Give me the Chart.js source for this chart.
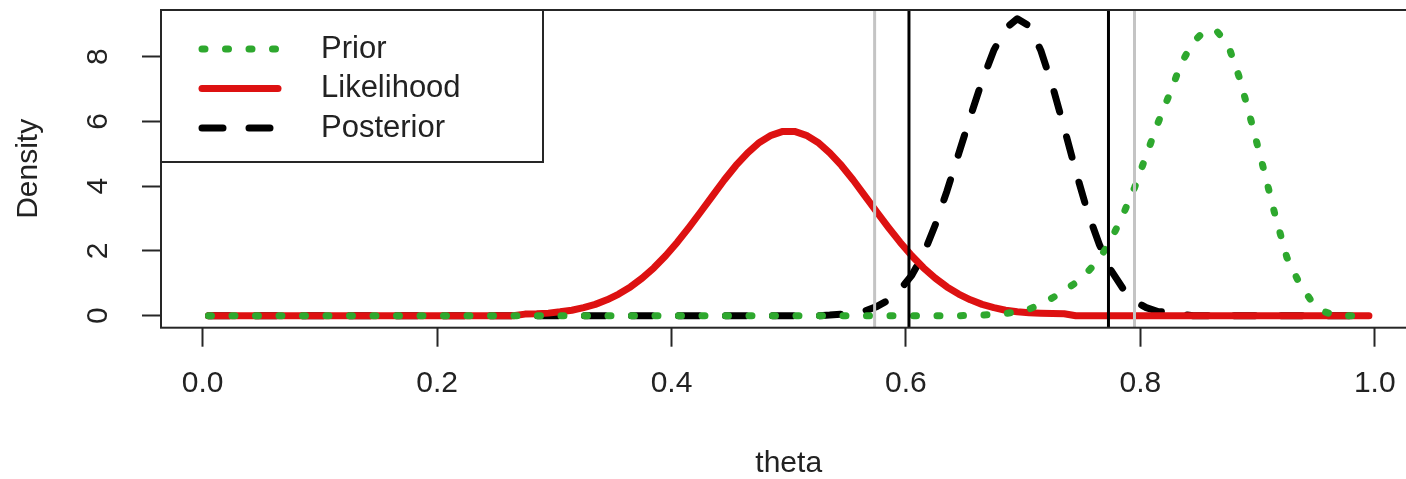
<!DOCTYPE html>
<html>
<head>
<meta charset="utf-8">
<script src="https://cdn.jsdelivr.net/npm/chart.js@4/dist/chart.umd.min.js"></script>
<style>
html,body{margin:0;padding:0;background:#ffffff;overflow:hidden;width:1406px;height:479px}
canvas{display:block}
</style>
</head>
<body>
<canvas id="c" width="1420" height="479" style="width:1420px;height:479px"></canvas>
<script>
// ---- data ----
const theta = [
  0.005,0.015,0.025,0.035,0.045,0.055,0.065,0.075,0.085,0.095,
  0.105,0.115,0.125,0.135,0.145,0.155,0.165,0.175,0.185,0.195,
  0.205,0.215,0.225,0.235,0.245,0.255,0.265,0.275,0.285,0.295,
  0.305,0.315,0.325,0.335,0.345,0.355,0.365,0.375,0.385,0.395,
  0.405,0.415,0.425,0.435,0.445,0.455,0.465,0.475,0.485,0.495,
  0.505,0.515,0.525,0.535,0.545,0.555,0.565,0.575,0.585,0.595,
  0.605,0.615,0.625,0.635,0.645,0.655,0.665,0.675,0.685,0.695,
  0.705,0.715,0.725,0.735,0.745,0.755,0.765,0.775,0.785,0.795,
  0.805,0.815,0.825,0.835,0.845,0.855,0.865,0.875,0.885,0.895,
  0.905,0.915,0.925,0.935,0.945,0.955,0.965,0.975,0.985,0.995
];
const prior = [
  0,0,0,0,0,0,0,0,0,0,
  0,0,0,0,0,0,0,0,0,0,
  0,0,0,0,0,0,0,0,0,0,
  0,0,0,0,0,0,0,0,0,0,
  0,0,0,0,0,0,0,0,0,0,
  0,0,0,0,0,0,0,0,0,0,
  0,0,0,0,0,0.01,0.02,0.04,0.07,0.12,
  0.2,0.36,0.55,0.78,1.02,1.35,1.75,2.35,3.1,3.95,
  4.95,5.95,6.85,7.8,8.45,8.8,8.8,8.35,7.3,5.95,
  4.55,3.1,1.8,1.05,0.5,0.15,0.02,0,0,0
];
const likelihood = [
  0,0,0,0,0,0,0,0,0,0,
  0,0,0,0,0,0,0,0,0,0,
  0,0,0,0,0,0,0,0.05,0.06,0.08,
  0.12,0.17,0.25,0.35,0.49,0.67,0.89,1.16,1.48,1.85,
  2.27,2.73,3.21,3.70,4.19,4.64,5.03,5.35,5.57,5.69,
  5.69,5.57,5.35,5.03,4.64,4.19,3.70,3.21,2.73,2.27,
  1.85,1.48,1.16,0.89,0.67,0.49,0.35,0.25,0.17,0.12,
  0.09,0.08,0.07,0.06,0,0,0,0,0,0,
  0,0,0,0,0,0,0,0,0,0,
  0,0,0,0,0,0,0,0,0,0
];
const posterior = [
  0,0,0,0,0,0,0,0,0,0,
  0,0,0,0,0,0,0,0,0,0,
  0,0,0,0,0,0,0,0,0,0,
  0,0,0,0,0,0,0,0,0,0,
  0,0,0,0,0,0,0,0,0,0,
  0,0,0,0.02,0.05,0.09,0.15,0.28,0.48,0.8,
  1.25,1.9,2.8,3.85,5.0,6.15,7.25,8.2,8.87,9.17,
  8.95,8.2,7.1,5.8,4.45,3.2,2.2,1.4,0.85,0.45,
  0.25,0.13,0.1,0.05,0,0,0,0,0,0,
  0,0,0,0,0,0,0,0,0,0
];
const seriesNames = ['Prior', 'Likelihood', 'Posterior'];
const grayLines = [0.5733, 0.795];
const blackLines = [0.6026, 0.7728];
const xTicks = [0, 0.2, 0.4, 0.6, 0.8, 1.0];
const xTickLabels = ['0.0', '0.2', '0.4', '0.6', '0.8', '1.0'];
const yTicks = [0, 2, 4, 6, 8];
const yTickLabels = ['0', '2', '4', '6', '8'];
const xAxisTitle = 'theta';
const yAxisTitle = 'Density';

// ---- styling ----
const X_MIN = -0.0355, X_MAX = 1.0355, Y_MIN = -0.37, Y_MAX = 9.44;
const FONT = "'Liberation Sans', Arial, Helvetica, sans-serif";
const TEXT = '#222222';
const AXIS = '#262626';
const GREEN = '#2ea82e';
const RED = '#dd1111';

function pts(ys) { return theta.map((t, i) => ({ x: t, y: ys[i] })); }
function vline(v) { return [{ x: v, y: Y_MIN }, { x: v, y: Y_MAX }]; }

const datasets = [
  ...grayLines.map(v => ({ label: '_gray', data: vline(v), borderColor: '#c4c4c4', borderWidth: 3, borderCapStyle: 'butt' })),
  ...blackLines.map(v => ({ label: '_black', data: vline(v), borderColor: '#000000', borderWidth: 3, borderCapStyle: 'butt' })),
  { label: seriesNames[0], data: pts(prior), borderColor: GREEN, borderWidth: 7, borderDash: [3, 20.5], borderCapStyle: 'round' },
  { label: seriesNames[1], data: pts(likelihood), borderColor: RED, borderWidth: 7, borderCapStyle: 'round' },
  { label: seriesNames[2], data: pts(posterior), borderColor: '#000000', borderWidth: 7, borderDash: [21, 26], borderCapStyle: 'round' }
];

const decor = {
  id: 'decor',
  afterDatasetsDraw(chart) {
    const { ctx, chartArea: a, scales: { y } } = chart;
    ctx.save();
    // plot box
    ctx.strokeStyle = AXIS;
    ctx.lineWidth = 2;
    ctx.setLineDash([]);
    ctx.strokeRect(a.left, a.top, a.right - a.left, a.bottom - a.top);
    // legend box
    const lg = { left: a.left, top: a.top, right: 543, bottom: 162 };
    ctx.strokeRect(lg.left, lg.top, lg.right - lg.left, lg.bottom - lg.top);
    const rows = [49, 88.5, 128];
    seriesNames.forEach((name, i) => {
      const ds = chart.data.datasets.find(d => d.label === name);
      ctx.save();
      ctx.strokeStyle = ds.borderColor;
      ctx.lineWidth = ds.borderWidth;
      ctx.lineCap = 'round';
      ctx.setLineDash(ds.borderDash || []);
      ctx.beginPath();
      ctx.moveTo(202, rows[i]);
      ctx.lineTo(278, rows[i]);
      ctx.stroke();
      ctx.restore();
      ctx.fillStyle = TEXT;
      ctx.font = '31px ' + FONT;
      ctx.textAlign = 'left';
      ctx.textBaseline = 'middle';
      ctx.fillText(name, 321, rows[i]);
    });
    // rotated y tick labels
    yTicks.forEach((v, i) => {
      const py = y.getPixelForValue(v);
      ctx.save();
      ctx.translate(99, py);
      ctx.rotate(-Math.PI / 2);
      ctx.fillStyle = TEXT;
      ctx.font = '30px ' + FONT;
      ctx.textAlign = 'center';
      ctx.textBaseline = 'middle';
      ctx.fillText(yTickLabels[i], 0, 0);
      ctx.restore();
    });
    ctx.restore();
  }
};

new Chart(document.getElementById('c'), {
  type: 'line',
  data: { datasets },
  options: {
    responsive: false,
    animation: false,
    devicePixelRatio: 1,
    layout: { padding: { top: 10, right: 3.6, left: 0, bottom: 0 } },
    elements: {
      point: { radius: 0, hoverRadius: 0 },
      line: { tension: 0, fill: false, borderJoinStyle: 'round' }
    },
    plugins: { legend: { display: false }, tooltip: { enabled: false } },
    events: [],
    scales: {
      x: {
        type: 'linear', min: X_MIN, max: X_MAX,
        afterBuildTicks: s => { s.ticks = xTicks.map(v => ({ value: v })); },
        afterFit: s => { s.height = 479 - 327.7; },
        ticks: {
          callback: (v, i) => xTickLabels[i],
          font: { family: FONT, size: 30 }, color: TEXT, padding: 19,
          maxRotation: 0, minRotation: 0, autoSkip: false
        },
        grid: { display: true, drawOnChartArea: false, drawTicks: true, tickLength: 19, tickColor: AXIS, tickWidth: 2 },
        border: { display: false },
        title: { display: true, text: xAxisTitle, color: TEXT, font: { family: FONT, size: 30, lineHeight: 1 }, padding: 0 }
      },
      y: {
        type: 'linear', min: Y_MIN, max: Y_MAX,
        afterBuildTicks: s => { s.ticks = yTicks.map(v => ({ value: v })); },
        afterFit: s => { s.width = 161; },
        ticks: { display: false },
        grid: { display: true, drawOnChartArea: false, drawTicks: true, tickLength: 19, tickColor: AXIS, tickWidth: 2 },
        border: { display: false },
        title: { display: true, text: yAxisTitle, color: TEXT, font: { family: FONT, size: 30, lineHeight: 1 }, padding: { top: 14, bottom: 0 } }
      }
    }
  },
  plugins: [decor]
});
</script>
</body>
</html>
